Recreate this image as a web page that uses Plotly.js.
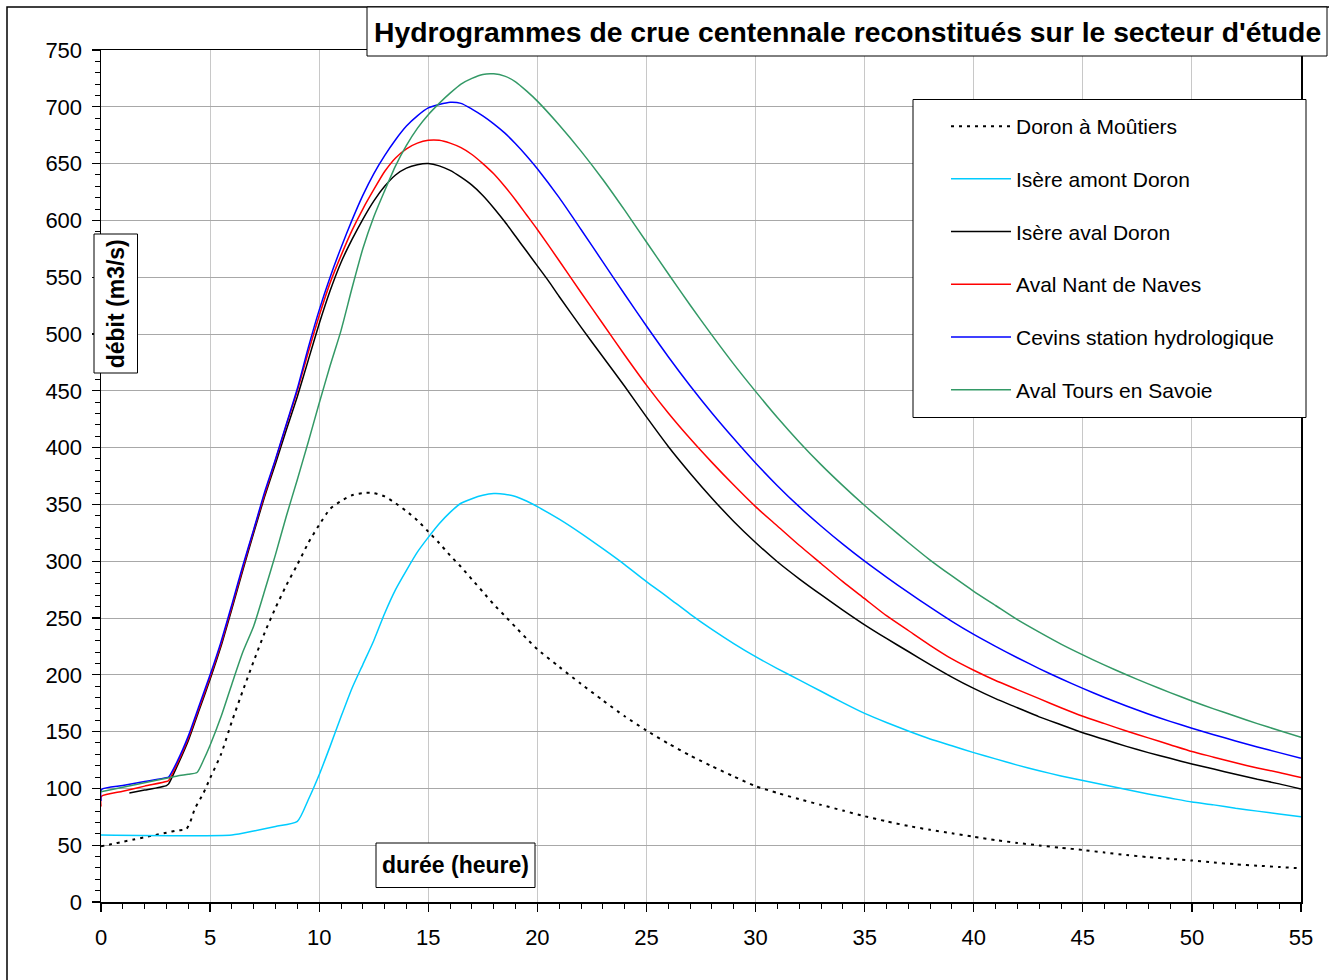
<!DOCTYPE html>
<html>
<head>
<meta charset="utf-8">
<script src="https://cdn.plot.ly/plotly-3.0.1.min.js"></script>
<style>html,body{margin:0;padding:0;background:#fff;}#chart{width:1329px;height:980px;}</style>
</head>
<body>
<div id="chart"></div>
<script>
// ---- Data ----
const seriesNames = ["Doron à Moûtiers", "Isère amont Doron", "Isère aval Doron", "Aval Nant de Naves", "Cevins station hydrologique", "Aval Tours en Savoie"];

const doronX = [0,0.5,1,1.5,2,2.5,3,3.5,3.9,4.1,4.3,4.7,5,5.5,6,6.5,7,7.5,8,8.5,9,9.5,10,10.5,11,11.5,12,12.5,13,13.5,14,14.5,15,15.5,16,16.5,17,17.5,18,18.5,19,19.5,20,21,22,23,24,25,26,27,28,29,30,31,32,33,34,35,36,37,38,39,40,41,42,43,44,45,46,47,48,49,50,51,52,53,54,55];
const doronY = [49,51,53,55,57,59,61,63,64,71,82,96,109,130,159,186,212,237,259,279,297,316,332,346,353,358,360,360,357,351,344,336,326,316,305,295,284,273,262,252,242,232,222.5,207,192,177.5,163.5,151,139.5,129,119.5,110.5,102,96,90.5,85.5,80.5,75.5,71,67,63.5,60.5,57.5,54.5,52,49.8,47.7,45.8,43.5,41.3,39.5,38,36.5,34.8,33.2,32,30.8,29.6];

const amontX = [0,6,7,8,9,9.5,10,10.5,11,11.5,12,12.5,13,13.5,14,14.5,15,15.5,16,16.5,17,17.5,18,18.5,19,19.5,20,21,22,23,24,25,26,27,28,29,30,31,32,33,34,35,36,37,38,39,40,41,42,43,44,45,46,47,48,49,50,51,52,53,54,55];
const amontY = [59,59,62.5,66.5,71,90,112,137,163,188,209,230,254,275,292,308,321,333,343,351,355,358,359.5,359,357,353,348,337,324.5,311,297,282,268,253.5,240,227.5,216,205.5,195.5,185.5,175.5,166,158,150.5,143.5,137.5,131.5,126,120.5,115.5,111,107,103,99,95,91.5,88,85.5,82.5,80,77.5,75];

const avalX = [1.3,2,3,3.1,3.5,4,4.5,5,5.5,6,6.5,7,7.5,8,8.5,9,9.5,10,10.5,11,11.5,12,12.5,13,13.5,14,14.5,15,15.5,16,16.5,17,17.5,18,18.5,19,19.5,20,20.5,21,22,23,24,25,26,27,28,29,30,31,32,33,34,35,36,37,38,39,40,41,42,43,44,45,46,47,48,49,50,51,52,53,54,55];
const avalY = [96,98.5,102.5,104,120,142,169,196,225,258,292,325,357,386,416,445,477,509,538,563,583,601,617,630,640,646,649,650,648,644,638,631,622,611,599,586,573,560,547,533,506,480,454,427,401,377.5,355.5,335,316.5,299.5,284.5,270.5,257,244,232,220.5,209,198,188,179,171,163,156,149,143,137,131.5,126.5,121.5,117,112.5,108,104,99.5];

const nantX = [0,0.02,1,2,3,3.1,3.5,4,4.5,5,5.5,6,6.5,7,7.5,8,8.5,9,9.5,10,10.5,11,11.5,12,12.5,13,13.5,14,14.5,15,15.5,16,16.5,17,17.5,18,18.5,19,19.5,20,21,22,23,24,25,26,27,28,29,30,31,32,33,34,35,36,37,38,39,40,41,42,43,44,45,46,47,48,49,50,51,52,53,54,55];
const nantY = [84,93,97.5,102,106,107,122,144,171,198,227,260,294,327,359,389,420,450,484,516,545,569,591,610,627,643,655,663,668,670.5,670.5,668,664,658,650,641,630,618,605,592,564.5,536.5,509,481.5,455,430.5,408,387,367,348,331,314,298,282,267,252,239,226,214,204,195,187,179,171,163.5,157,150.5,144.5,138.5,132.5,127.5,122.5,118,114,109.5];

const cevinsX = [0,0.02,1,2,3,3.1,3.5,4,4.5,5,5.5,6,6.5,7,7.5,8,8.5,9,9.5,10,10.5,11,11.5,12,12.5,13,13.5,14,14.5,15,15.5,16,16.5,17,17.5,18,18.5,19,19.5,20,21,22,23,24,25,26,27,28,29,30,31,32,33,34,35,36,37,38,39,40,41,42,43,44,45,46,47,48,49,50,51,52,53,54,55];
const cevinsY = [89,99,102.5,106,109.5,110,124,146,173,200,229,262,296,328,361,390,421,452,488,521,550,576,600,622,641,657,671,683,692,699,702,704,703,698,692,685,677,667.5,657,645.5,620,592,563.5,535,507,480,454.5,430.5,408,386.5,366.5,348,331,315,300,286,272.5,259.5,247,235.5,225,215,205.5,196.5,188,180,172.5,165.5,159,153,147.3,141.8,136.5,131.5,126.5];

const toursX = [0,1,2,3,3.5,4,4.4,4.7,5,5.5,6,6.5,7,7.5,8,8.5,9,9.5,10,10.5,11,11.5,12,12.5,13,13.5,14,14.5,15,15.5,16,16.5,17,17.5,18,18.5,19,19.5,20,21,22,23,24,25,26,27,28,29,30,31,32,33,34,35,36,37,38,39,40,41,42,43,44,45,46,47,48,49,50,51,52,53,54,55];
const toursY = [97,101,105,109,111,112.5,114,125,138,163,192,220,243,274,306,340,372,405,439,472,503,540,575,603,626,648,666,681,693,703,712,720,725,728.5,729,727,722,714,705,684,661,636,609,581,553,525.5,499,473.5,449.5,426.5,405,385,366.5,349,332.5,316.5,301,287,273.5,261,248.5,237.5,227,217.5,208.5,200,192,184.3,177,170,163.5,157,151,145];

const seriesColors = ["#000000", "#00ccff", "#000000", "#ff0000", "#0000ff", "#339966"];

const xTickVals = [0,5,10,15,20,25,30,35,40,45,50,55];
const yTickVals = [0,50,100,150,200,250,300,350,400,450,500,550,600,650,700,750];

const chartTitle = "Hydrogrammes de crue centennale reconstitués sur le secteur d'étude";
const xTitle = "durée (heure)";
const yTitle = "débit (m3/s)";

// ---- Figure ----
const FONT = "Liberation Sans, Arial, sans-serif";
const xs = [doronX, amontX, avalX, nantX, cevinsX, toursX];
const ys = [doronY, amontY, avalY, nantY, cevinsY, toursY];

const traces = seriesNames.map((name, i) => ({
  type: "scatter",
  mode: "lines",
  name: name,
  x: xs[i],
  y: ys[i],
  legendgroup: "g" + i,
  line: {
    color: seriesColors[i],
    width: i === 0 ? 2 : 1.5,
    dash: i === 0 ? "3px,5px" : "solid",
    shape: "spline",
    smoothing: 0.6
  }
}));

// paper-coordinate helpers (plot area: px 101..1301, py 50..902)
const L = 101, R = 1301, T = 50, B = 902;
const px = v => (v - L) / (R - L);
const py = v => (B - v) / (B - T);

const layout = {
  width: 1329,
  height: 980,
  margin: {l: L, r: 1329 - R, t: T, b: 980 - B, pad: 0},
  paper_bgcolor: "#ffffff",
  plot_bgcolor: "#ffffff",
  font: {family: FONT, color: "#000000", size: 22},
  showlegend: true,
  legend: {
    x: px(946), y: py(106), xanchor: "left", yanchor: "top",
    bgcolor: "rgba(0,0,0,0)", borderwidth: 0,
    font: {family: FONT, size: 21, color: "#000000"},
    traceorder: "grouped", tracegroupgap: 22.4, itemwidth: 60
  },
  xaxis: {
    range: [0, 55], tickvals: xTickVals, ticktext: xTickVals.map(String),
    showgrid: true, gridcolor: "#c8c8c8", gridwidth: 1,
    zeroline: false, showline: true, linecolor: "#000000", linewidth: 1.5, mirror: true,
    ticks: "outside", ticklen: 8, tickcolor: "#000000", tickwidth: 1.3,
    ticklabelstandoff: 7,
    tickfont: {family: FONT, size: 22, color: "#000000"},
    minor: {dtick: 1, ticks: "outside", ticklen: 5, tickcolor: "#000000", tickwidth: 1, showgrid: false}
  },
  yaxis: {
    range: [0, 750], tickvals: yTickVals, ticktext: yTickVals.map(String),
    showgrid: true, gridcolor: "#a8a8a8", gridwidth: 1,
    zeroline: false, showline: true, linecolor: "#000000", linewidth: 1.5, mirror: true,
    ticks: "outside", ticklen: 8, tickcolor: "#000000", tickwidth: 1.3,
    ticklabelstandoff: 5,
    tickfont: {family: FONT, size: 22, color: "#000000"},
    minor: {dtick: 10, ticks: "outside", ticklen: 5, tickcolor: "#000000", tickwidth: 1, showgrid: false}
  },
  shapes: [
    // outer chart frame
    {type: "rect", xref: "paper", yref: "paper", x0: px(7), x1: px(1345), y0: py(995), y1: py(7),
     line: {color: "#000000", width: 1.5}, fillcolor: "rgba(0,0,0,0)", layer: "above"},
    // title box
    {type: "rect", xref: "paper", yref: "paper", x0: px(367), x1: px(1327), y0: py(56), y1: py(7),
     line: {color: "#000000", width: 1}, fillcolor: "#ffffff", layer: "above"},
    // legend box
    {type: "rect", xref: "paper", yref: "paper", x0: px(913), x1: px(1306), y0: py(417.5), y1: py(99.5),
     line: {color: "#000000", width: 1}, fillcolor: "#ffffff", layer: "above"},
    // y title box
    {type: "rect", xref: "paper", yref: "paper", x0: px(94), x1: px(137.5), y0: py(373), y1: py(234),
     line: {color: "#000000", width: 1}, fillcolor: "#ffffff", layer: "above"},
    // x title box
    {type: "rect", xref: "paper", yref: "paper", x0: px(376), x1: px(535), y0: py(887.5), y1: py(843),
     line: {color: "#000000", width: 1}, fillcolor: "#ffffff", layer: "above"}
  ],
  annotations: [
    {text: "<b>" + chartTitle + "</b>", xref: "paper", yref: "paper", x: px(847.5), y: py(32),
     xanchor: "center", yanchor: "middle", showarrow: false,
     font: {family: FONT, size: 28.3, color: "#000000"}},
    {text: "<b>" + yTitle + "</b>", xref: "paper", yref: "paper", x: px(115.8), y: py(303.5),
     xanchor: "center", yanchor: "middle", showarrow: false, textangle: -90,
     font: {family: FONT, size: 23, color: "#000000"}},
    {text: "<b>" + xTitle + "</b>", xref: "paper", yref: "paper", x: px(455.5), y: py(865),
     xanchor: "center", yanchor: "middle", showarrow: false,
     font: {family: FONT, size: 23, color: "#000000"}}
  ]
};

Plotly.newPlot("chart", traces, layout, {displayModeBar: false, staticPlot: true});
</script>
</body>
</html>
